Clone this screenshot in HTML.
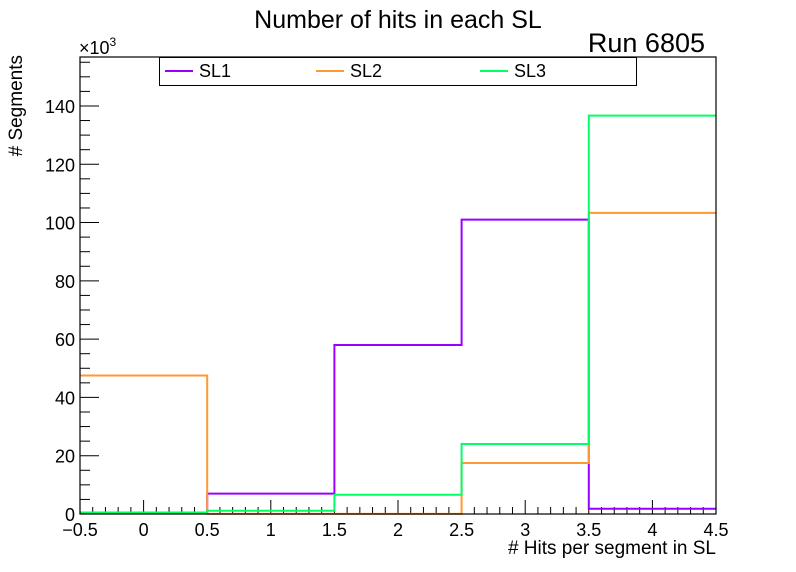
<!DOCTYPE html>
<html><head><meta charset="utf-8"><style>
body{margin:0;background:#fff}
svg{display:block;font-family:"Liberation Sans",sans-serif}
</style></head><body>
<svg id="c" width="796" height="572">
<text x="398" y="28" font-size="25" text-anchor="middle">Number of hits in each SL</text>
<text x="705" y="52" font-size="27" text-anchor="end">Run 6805</text>
<text x="79" y="54" font-size="18">×10<tspan dy="-8" font-size="12">3</tspan></text>
<text transform="translate(22,55) rotate(-90)" font-size="19" text-anchor="end"># Segments</text>
<text x="716" y="554" font-size="19" text-anchor="end"># Hits per segment in SL</text>
<g id="ticks"></g>
<g id="series"></g>
<rect x="80" y="57" width="636" height="457" fill="none" stroke="#000" stroke-width="1.2"/>
<g>
<rect x="159.5" y="57.5" width="477" height="28" fill="#fff" stroke="#000"/>
<line x1="165" y1="71" x2="193" y2="71" stroke="#9900ff" stroke-width="2"/>
<text x="199" y="77" font-size="18">SL1</text>
<line x1="316" y1="71" x2="344" y2="71" stroke="#ff9933" stroke-width="2"/>
<text x="350" y="77" font-size="18">SL2</text>
<line x1="480" y1="71" x2="508" y2="71" stroke="#00ff66" stroke-width="2"/>
<text x="514" y="77" font-size="18">SL3</text>
</g>
</svg>
<script>
const binEdges=[-0.5,0.5,1.5,2.5,3.5,4.5];
const sl1=[0.3,7.0,58.0,101.0,1.8];
const sl2=[47.5,0.05,0.05,17.5,103.3];
const sl3=[0.5,1.1,6.6,24.0,136.7];
const xTickLabels=["−0.5","0","0.5","1","1.5","2","2.5","3","3.5","4","4.5"];
const yTickLabels=["0","20","40","60","80","100","120","140"];
const NS="http://www.w3.org/2000/svg";
const X0=80,X1=716,Y0=514,Y1=57,xmin=-0.5,xmax=4.5,ymax=156.8;
const xs=v=>X0+(v-xmin)/(xmax-xmin)*(X1-X0);
const ys=v=>Y0-v/ymax*(Y0-Y1);
const tk=document.getElementById('ticks'),sg=document.getElementById('series');
function mk(tag,at,p){const e=document.createElementNS(NS,tag);for(const k in at)e.setAttribute(k,at[k]);p.appendChild(e);return e;}
for(let i=0;i<=50;i++){const v=xmin+i*0.1;const major=i%5===0;
 const l=mk('line',{x1:xs(v),x2:xs(v),y1:Y0,y2:Y0-(major?14:7),stroke:'#000'},tk);
 
 }
xTickLabels.forEach((s,i)=>{const t=mk('text',{x:xs(xmin+i*0.5),y:Y0+22,'font-size':18,'text-anchor':'middle'},tk);t.textContent=s;
 
 });
for(let v=0;v<=155;v+=5){const major=v%20===0;
 const l=mk('line',{x1:X0,x2:X0+(major?19:10),y1:ys(v),y2:ys(v),stroke:'#000'},tk);
 
 }
yTickLabels.forEach((s,i)=>{const t=mk('text',{x:X0-5,y:ys(i*20)+7,'font-size':18,'text-anchor':'end'},tk);t.textContent=s;
 
 });
function draw(vals,color,name){let d='';
 vals.forEach((v,i)=>{d+=(i===0?'M':' L')+xs(binEdges[i])+','+ys(v)+' L'+xs(binEdges[i+1])+','+ys(v);});
 const p=mk('path',{d:d,fill:'none',stroke:color,'stroke-width':2},sg);
 
 }
draw(sl1,'#9900ff','series-sl1');
draw(sl2,'#ff9933','series-sl2');
draw(sl3,'#00ff66','series-sl3');
</script>
</body></html>
